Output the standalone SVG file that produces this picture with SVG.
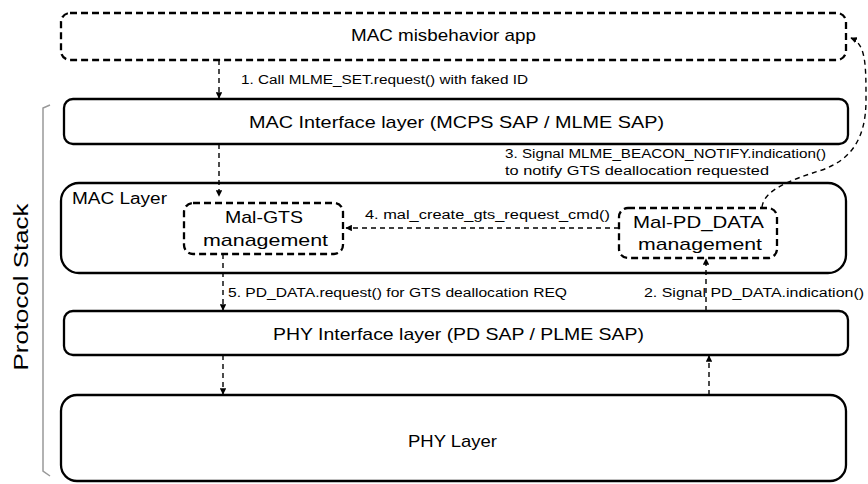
<svg xmlns="http://www.w3.org/2000/svg" width="868" height="484" viewBox="0 0 868 484">
<defs>
<style>
.box{fill:#fff;stroke:#000;stroke-width:2.3}
.dbox{fill:#fff;stroke:#000;stroke-width:2.3;stroke-dasharray:7 4}
.con{fill:none;stroke:#000;stroke-width:1.4;stroke-dasharray:5 4}
.t{font-family:"Liberation Sans",Arial,sans-serif;fill:#000}
.title{font-size:17px}
.lbl{font-size:12.5px}
</style>
<marker id="ah" viewBox="0 0 10 10" refX="9" refY="5" markerWidth="6.5" markerHeight="6.5" orient="auto" markerUnits="userSpaceOnUse">
<path d="M0,0 L10,5 L0,10 z" fill="#000"/>
</marker>
</defs>
<rect width="868" height="484" fill="#fff"/>

<g id="bracket">
<path d="M50 105 L43 108 L43 471 L50 476" fill="none" stroke="#999" stroke-width="1.5"/>
<text class="t" font-size="21" transform="translate(28 287) rotate(-90)" text-anchor="middle" textLength="167" lengthAdjust="spacingAndGlyphs">Protocol Stack</text>
</g>

<g id="mac-misbehavior-app">
<rect class="dbox" x="61" y="13" width="785" height="47" rx="9"/>
<text class="t title" x="351" y="41" textLength="185" lengthAdjust="spacingAndGlyphs">MAC misbehavior app</text>
</g>

<g id="mac-interface">
<rect class="box" x="64" y="99" width="784" height="45" rx="9"/>
<text class="t title" x="249" y="128" textLength="415" lengthAdjust="spacingAndGlyphs">MAC Interface layer (MCPS SAP / MLME SAP)</text>
</g>

<g id="mac-layer">
<rect class="box" x="61" y="183" width="785" height="90" rx="18"/>
<text class="t" font-size="16" x="72" y="204" textLength="95" lengthAdjust="spacingAndGlyphs">MAC Layer</text>
</g>

<g id="mal-gts">
<rect class="dbox" x="184" y="203" width="159" height="51" rx="9"/>
<text class="t title" x="225" y="223" textLength="78" lengthAdjust="spacingAndGlyphs">Mal-GTS</text>
<text class="t title" x="203" y="246" textLength="125" lengthAdjust="spacingAndGlyphs">management</text>
</g>

<g id="mal-pd-data">
<rect class="dbox" x="619" y="208" width="158" height="50" rx="9"/>
<text class="t title" x="633" y="228" textLength="131" lengthAdjust="spacingAndGlyphs">Mal-PD_DATA</text>
<text class="t title" x="638" y="250" textLength="124" lengthAdjust="spacingAndGlyphs">management</text>
</g>

<g id="phy-interface">
<rect class="box" x="64" y="311" width="784" height="44" rx="9"/>
<text class="t title" x="273" y="340" textLength="371" lengthAdjust="spacingAndGlyphs">PHY Interface layer (PD SAP / PLME SAP)</text>
</g>

<g id="phy-layer">
<rect class="box" x="61" y="395" width="785" height="86" rx="16"/>
<text class="t title" x="408" y="447" textLength="89" lengthAdjust="spacingAndGlyphs">PHY Layer</text>
</g>

<g id="connectors">
<path class="con" d="M219 60 L219 98" marker-end="url(#ah)"/>
<path class="con" d="M219 144 L219 196" marker-end="url(#ah)"/>
<path class="con" d="M619 228 L346 228" marker-end="url(#ah)"/>
<path class="con" d="M223 254 L223 310" marker-end="url(#ah)"/>
<path class="con" d="M706 311 L706 259" marker-end="url(#ah)"/>
<path class="con" d="M223 355 L223 394" marker-end="url(#ah)"/>
<path class="con" d="M709 395 L709 356" marker-end="url(#ah)"/>
<path class="con" d="M762 207 C764 190 790 180 822 170 C850 160 866 140 866 100 C866 65 866 44 851 38" marker-end="url(#ah)"/>
</g>

<g id="labels">
<text class="t lbl" x="241" y="84" textLength="287" lengthAdjust="spacingAndGlyphs">1. Call MLME_SET.request() with faked ID</text>
<text class="t lbl" x="505" y="158" textLength="321" lengthAdjust="spacingAndGlyphs">3. Signal MLME_BEACON_NOTIFY.indication()</text>
<text class="t lbl" x="505" y="175" textLength="264" lengthAdjust="spacingAndGlyphs">to notify GTS deallocation requested</text>
<text class="t lbl" x="365" y="219" textLength="245" lengthAdjust="spacingAndGlyphs">4. mal_create_gts_request_cmd()</text>
<text class="t lbl" x="228" y="297" textLength="339" lengthAdjust="spacingAndGlyphs">5. PD_DATA.request() for GTS deallocation REQ</text>
<text class="t lbl" x="644" y="297" textLength="220" lengthAdjust="spacingAndGlyphs">2. Signal PD_DATA.indication()</text>
</g>
</svg>
